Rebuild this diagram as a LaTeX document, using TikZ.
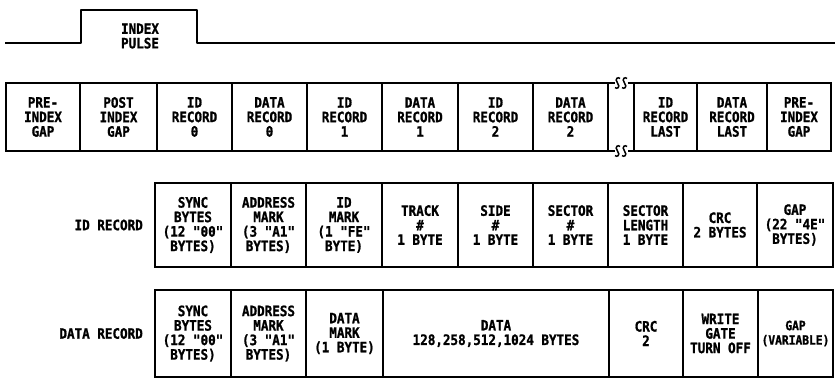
\documentclass[tikz,border=0pt]{standalone}
\usepackage{fontspec}
\newfontfamily\stencil[FakeStretch=0.88, FakeBold=1.2]{DejaVu Sans Mono}
\usepackage{tikz}
\usetikzlibrary{
    positioning,
    calc
}
\tikzset{
    cell/.style={
        rectangle,
        draw=black,
        line width=1.4pt,
        outer sep=0pt,
        inner sep=1pt,
        align=center,
        font=\stencil\bfseries\fontsize{14.3}{14.5}\selectfont
    },
    trackcell/.style={
        cell,
        minimum height=68pt
    },
    idcell/.style={
        cell,
        minimum height=84pt
    },
    datacell/.style={
        cell,
        minimum height=87pt
    },
    rowlabel/.style={
        align=right,
        inner sep=0pt,
        font=\stencil\bfseries\fontsize{14.3}{14.5}\selectfont
    },
    frame/.style={
        line width=2.4pt,
        line join=round
    },
    pulse/.style={
        line width=2.4pt,
        line join=round
    },
    breakmark/.style={
        line width=1.5pt
    }
}

\begin{document}
\begin{tikzpicture}[x=1pt, y=-1pt]
\useasboundingbox (0,0) rectangle (835,382);

% index pulse
\draw[pulse] (5,43) -- (81,43) -- (81,10) -- (197,10) -- (197,43) -- (835,43);
\node[rowlabel, align=center] (pulselabel) at (140,36) {INDEX\\PULSE};

% track layout
\node[trackcell, minimum width=74pt] (pre) at (43,117) {PRE-\\INDEX\\GAP};
\node[trackcell, minimum width=77pt, right=0pt of pre] (post) {POST\\INDEX\\GAP};
\node[trackcell, minimum width=75pt, right=0pt of post] (idzero) {ID\\RECORD\\0};
\node[trackcell, minimum width=75pt, right=0pt of idzero] (datazero) {DATA\\RECORD\\0};
\node[trackcell, minimum width=75pt, right=0pt of datazero] (idone) {ID\\RECORD\\1};
\node[trackcell, minimum width=76pt, right=0pt of idone] (dataone) {DATA\\RECORD\\1};
\node[trackcell, minimum width=75pt, right=0pt of dataone] (idtwo) {ID\\RECORD\\2};
\node[trackcell, minimum width=75pt, right=0pt of idtwo] (datatwo) {DATA\\RECORD\\2};
\node[trackcell, draw=none, minimum width=26pt, right=0pt of datatwo] (gapbreak) {};
\node[trackcell, minimum width=63pt, right=0pt of gapbreak] (idlast) {ID\\RECORD\\LAST};
\node[trackcell, minimum width=70pt, right=0pt of idlast] (datalast) {DATA\\RECORD\\LAST};
\node[trackcell, minimum width=64pt, right=0pt of datalast] (preend) {PRE-\\INDEX\\GAP};

\draw[frame] ($(gapbreak.north)+(-6.5,0)$) -- (pre.north west) -- (pre.south west)
    -- ($(gapbreak.south)+(-6.5,0)$);
\draw[frame] ($(gapbreak.north)+(6.5,0)$) -- (preend.north east) -- (preend.south east)
    -- ($(gapbreak.south)+(6.5,0)$);
\foreach \sx in {-3.5,3.5} {
    \foreach \sy in {north,south} {
        \begin{scope}[shift={($(gapbreak.\sy)+(\sx,0)$)}]
            \draw[breakmark] (2.5,-4.5) .. controls (1,-6.5) and (-3.5,-4.5) .. (0,0)
                .. controls (3.5,4.5) and (-1,6.5) .. (-2.5,4.5);
        \end{scope}
    }
}

% id record
\node[idcell, minimum width=76pt] (idsync) at (193,225) {SYNC\\BYTES\\(12 "00"\\BYTES)};
\node[idcell, minimum width=75pt, right=0pt of idsync] (idaddr) {ADDRESS\\MARK\\(3 "A1"\\BYTES)};
\node[idcell, minimum width=76pt, right=0pt of idaddr] (idmark) {ID\\MARK\\(1 "FE"\\BYTE)};
\node[idcell, minimum width=76pt, right=0pt of idmark] (idtrack) {TRACK\\\#\\1 BYTE};
\node[idcell, minimum width=75pt, right=0pt of idtrack] (idside) {SIDE\\\#\\1 BYTE};
\node[idcell, minimum width=75pt, right=0pt of idside] (idsector) {SECTOR\\\#\\1 BYTE};
\node[idcell, minimum width=75pt, right=0pt of idsector] (idlength) {SECTOR\\LENGTH\\1 BYTE};
\node[idcell, minimum width=74pt, right=0pt of idlength] (idcrc) {CRC\\2 BYTES};
\node[idcell, minimum width=76pt, right=0pt of idcrc] (idgap) {GAP\\(22 "4E"\\BYTES)};
\draw[frame] (idsync.north west) rectangle (idgap.south east);
\node[rowlabel, left=12pt of idsync] (idlabel) {ID RECORD};

% data record
\node[datacell, minimum width=76pt] (dsync) at (193,333.5) {SYNC\\BYTES\\(12 "00"\\BYTES)};
\node[datacell, minimum width=75pt, right=0pt of dsync] (daddr) {ADDRESS\\MARK\\(3 "A1"\\BYTES)};
\node[datacell, minimum width=77pt, right=0pt of daddr] (dmark) {DATA\\MARK\\(1 BYTE)};
\node[datacell, minimum width=226pt, right=0pt of dmark] (dfield) {DATA\\128,258,512,1024 BYTES};
\node[datacell, minimum width=74pt, right=0pt of dfield] (dcrc) {CRC\\2};
\node[datacell, minimum width=75pt, right=0pt of dcrc] (dwrite) {WRITE\\GATE\\TURN OFF};
\node[datacell, minimum width=75pt, right=0pt of dwrite,
    font=\stencil\bfseries\fontsize{12.8}{14.5}\selectfont] (dgap) {GAP\\(VARIABLE)};
\draw[frame] (dsync.north west) rectangle (dgap.south east);
\node[rowlabel, left=12pt of dsync] (dlabel) {DATA RECORD};
\end{tikzpicture}
\end{document}
